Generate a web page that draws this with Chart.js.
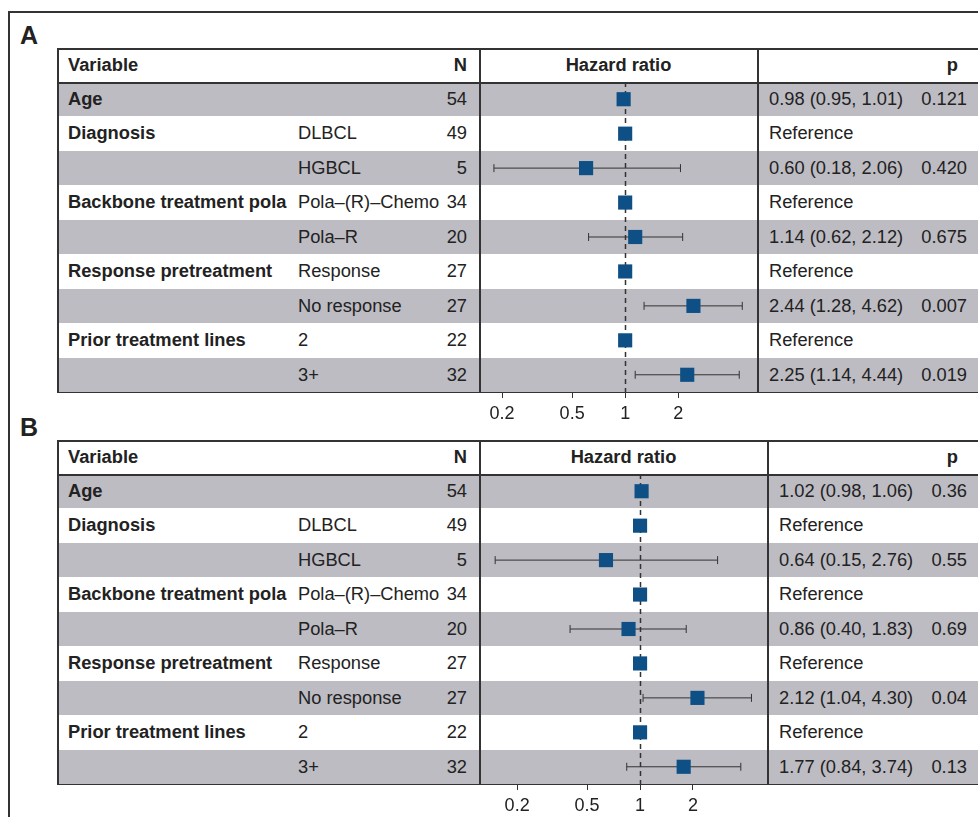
<!DOCTYPE html>
<html><head><meta charset="utf-8">
<script src="https://cdn.jsdelivr.net/npm/chart.js@4"></script>
<style>
body{margin:0;width:978px;height:817px;overflow:hidden;background:#fff;font-family:"Liberation Sans",Arial,sans-serif;color:#222;}
.a{position:absolute;white-space:nowrap;font-size:18.3px;line-height:34px;}
.b{font-weight:bold;}
.line{position:absolute;background:#333;}
</style></head><body>
<div class="line" style="left:8px;top:11px;width:970px;height:2px"></div>
<div class="line" style="left:8px;top:11px;width:2px;height:806px"></div>
<script>
var variables = ["Age", "Diagnosis", "", "Backbone treatment pola", "", "Response pretreatment", "", "Prior treatment lines", ""];
var levels = ["", "DLBCL", "HGBCL", "Pola\u2013(R)\u2013Chemo", "Pola\u2013R", "Response", "No response", "2", "3+"];
var counts = [54, 49, 5, 34, 20, 27, 27, 22, 32];
var tickVals = [0.2, 0.5, 1, 2];

var hrA = [0.98, 1, 0.60, 1, 1.14, 1, 2.44, 1, 2.25];
var loA = [0.95, null, 0.18, null, 0.62, null, 1.28, null, 1.14];
var hiA = [1.01, null, 2.06, null, 2.12, null, 4.62, null, 4.44];
var pA = ["0.121", "", "0.420", "", "0.675", "", "0.007", "", "0.019"];

var hrB = [1.02, 1, 0.64, 1, 0.86, 1, 2.12, 1, 1.77];
var loB = [0.98, null, 0.15, null, 0.40, null, 1.04, null, 0.84];
var hiB = [1.06, null, 2.76, null, 1.83, null, 4.30, null, 3.74];
var pB = ["0.36", "", "0.55", "", "0.69", "", "0.04", "", "0.13"];

var RH = 34.44;

function el(html, cls, style) {
  var d = document.createElement("div");
  d.className = cls; d.style.cssText = style; d.textContent = html;
  document.body.appendChild(d); return d;
}

function panel(label, top, div2, xmin, xmax, hr, lo, hi, p) {
  var bot = top + 34 + 9 * RH;
  el(label, "a b", "left:20px;top:" + (top - 30) + "px;font-size:25px;");
  for (var i = 0; i < 9; i += 2)
    el("", "", "position:absolute;background:#bdbcc2;left:58px;width:920px;top:" + (top + 34 + i * RH) + "px;height:" + RH + "px");
  el("", "line", "left:57px;top:" + top + "px;width:921px;height:1.5px");
  el("", "line", "left:57px;top:" + (top + 34) + "px;width:921px;height:1.5px");
  el("", "line", "left:57px;top:" + bot + "px;width:921px;height:1.5px");
  el("", "line", "left:57px;top:" + top + "px;width:1.5px;height:" + (bot - top) + "px");
  el("", "line", "left:479px;top:" + top + "px;width:1.5px;height:" + (bot - top) + "px");
  el("", "line", "left:" + div2 + "px;top:" + top + "px;width:1.5px;height:" + (bot - top) + "px");
  el("Variable", "a b", "left:68px;top:" + top + "px");
  el("N", "a b", "right:" + (978 - 467) + "px;top:" + top + "px");
  el("Hazard ratio", "a b", "left:480px;width:" + (div2 - 480) + "px;text-align:center;top:" + top + "px");
  el("p", "a b", "right:20px;top:" + top + "px");
  for (var i = 0; i < 9; i++) {
    var y = top + 34 + i * RH;
    if (variables[i]) el(variables[i], "a b", "left:68px;top:" + y + "px");
    if (levels[i]) el(levels[i], "a", "left:298px;top:" + y + "px");
    el(String(counts[i]), "a", "right:" + (978 - 467) + "px;top:" + y + "px");
    var s = lo[i] == null ? "Reference" : hr[i].toFixed(2) + " (" + lo[i].toFixed(2) + ", " + hi[i].toFixed(2) + ")";
    el(s, "a", "left:" + (div2 + 12) + "px;top:" + y + "px");
    if (p[i]) el(p[i], "a", "right:11px;top:" + y + "px");
  }
  var wrap = document.createElement("div");
  wrap.style.cssText = "position:absolute;left:480px;top:" + (top + 34) + "px;width:" + (div2 - 480) + "px;height:" + (9 * RH + 34) + "px";
  var cv = document.createElement("canvas");
  wrap.appendChild(cv); document.body.appendChild(wrap);

  var errBars = {
    id: "err",
    beforeDatasetsDraw: function (c) {
      var x = c.scales.x, yS = c.scales.y, g = c.ctx;
      g.save();
      g.strokeStyle = "#333"; g.setLineDash([5, 4]); g.lineWidth = 1.5;
      var x1 = Math.round(x.getPixelForValue(1)) + 0.5;
      g.beginPath(); g.moveTo(x1, 0); g.lineTo(x1, c.chartArea.bottom); g.stroke();
      g.setLineDash([]); g.lineWidth = 1;
      for (var i = 0; i < 9; i++) {
        if (lo[i] == null) continue;
        var y = yS.getPixelForValue(i), a = x.getPixelForValue(lo[i]), b = x.getPixelForValue(hi[i]);
        g.beginPath(); g.moveTo(a, y); g.lineTo(b, y);
        g.moveTo(a, y - 4); g.lineTo(a, y + 4); g.moveTo(b, y - 4); g.lineTo(b, y + 4); g.stroke();
      }
      g.restore();
    }
  };

  new Chart(cv, {
    type: "scatter",
    data: { datasets: [{ data: hr.map(function (v, i) { return { x: v, y: i }; }),
      pointStyle: "rect", pointRadius: 10, pointHoverRadius: 10,
      backgroundColor: "#0e5086", borderColor: "#0e5086", borderWidth: 0, clip: false }] },
    options: {
      responsive: true, maintainAspectRatio: false, animation: false,
      layout: { padding: 0, autoPadding: false },
      plugins: { legend: { display: false }, tooltip: { enabled: false } },
      scales: {
        x: { type: "logarithmic", min: xmin, max: xmax,
          afterBuildTicks: function (s) { s.ticks = tickVals.map(function (v) { return { value: v }; }); },
          afterFit: function (s) { s.height = 34; },
          grid: { drawOnChartArea: false, tickLength: 6, color: "#333" },
          border: { display: false },
          ticks: { color: "#222", font: { size: 18, family: "Liberation Sans" }, padding: 5, maxRotation: 0,
            callback: function (v) { return String(v); } } },
        y: { display: false, min: -0.5, max: 8.5, reverse: true }
      }
    },
    plugins: [errBars]
  });
}

panel("A", 48, 757, 0.15, 5.6, hrA, loA, hiA, pA);
panel("B", 440, 767, 0.123, 5.27, hrB, loB, hiB, pB);
</script>
</body></html>
